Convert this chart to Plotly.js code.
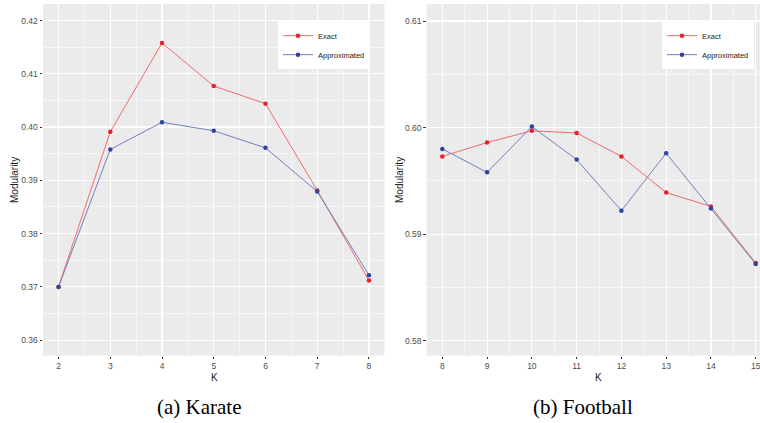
<!DOCTYPE html>
<html>
<head>
<meta charset="utf-8">
<script src="https://cdn.plot.ly/plotly-3.0.1.min.js"></script>
<style>html,body{margin:0;padding:0;background:#fff;overflow:hidden;}#chart{width:760px;height:423px;display:block;}</style>
</head>
<body>
<div id="chart"></div>
<script>
// Karate
const karateK = [2, 3, 4, 5, 6, 7, 8];
const karateExact = [0.3700, 0.3991, 0.4158, 0.4077, 0.4044, 0.3881, 0.3712];
const karateApprox = [0.3700, 0.3958, 0.4009, 0.3993, 0.3961, 0.3879, 0.3722];
// Football
const footballK = [8, 9, 10, 11, 12, 13, 14, 15];
const footballExact = [0.5973, 0.5986, 0.5997, 0.5995, 0.5973, 0.5939, 0.5926, 0.5873];
const footballApprox = [0.5980, 0.5958, 0.6001, 0.5970, 0.5922, 0.5976, 0.5924, 0.5872];

const redLine = '#F0696E', redPt = '#E8202A';
const blueLine = '#6F7FBC', bluePt = '#2E44A0';
const tickFont = {family: 'Liberation Sans, Arial, sans-serif', size: 8.5, color: '#4D4D4D'};
const titleFont = {family: 'Liberation Sans, Arial, sans-serif', size: 10, color: '#222'};

function tr(x, y, name, lc, pc, xa, ya, lg) {
  return {x: x, y: y, name: name, type: 'scatter', mode: 'lines+markers',
    line: {color: lc, width: 1}, marker: {color: pc, size: 4.5},
    xaxis: xa, yaxis: ya, legend: lg};
}

const data = [
  tr(karateK, karateExact, 'Exact', redLine, redPt, 'x', 'y', 'legend'),
  tr(karateK, karateApprox, 'Approximated', blueLine, bluePt, 'x', 'y', 'legend'),
  tr(footballK, footballExact, 'Exact', redLine, redPt, 'x2', 'y2', 'legend2'),
  tr(footballK, footballApprox, 'Approximated', blueLine, bluePt, 'x2', 'y2', 'legend2')
];

const minorGrid = {showgrid: true, gridcolor: '#F6F6F6', gridwidth: 1, ticks: ''};
function ax(extra) {
  return Object.assign({
    showgrid: true, gridcolor: '#FFFFFF', gridwidth: 1.2, zeroline: false,
    ticks: 'outside', ticklen: 2.5, tickcolor: '#333', tickwidth: 1,
    tickfont: tickFont, showline: false, automargin: false
  }, extra);
}

const legendFont = {family: 'Liberation Sans, Arial, sans-serif', size: 7.5, color: '#222'};

const layout = {
  width: 760, height: 423,
  margin: {l: 0, r: 0, t: 0, b: 0, autoexpand: false},
  paper_bgcolor: '#FFFFFF', plot_bgcolor: '#EBEBEB',
  showlegend: true,
  xaxis: ax({domain: [0.0566, 0.5059], range: [1.7, 8.3], dtick: 1, tick0: 2,
    minor: Object.assign({tick0: 2.5, dtick: 1}, minorGrid), anchor: 'y'}),
  yaxis: ax({domain: [0.1593, 0.9905], range: [0.3571, 0.4231], dtick: 0.01, tick0: 0.36, tickformat: '.2f',
    minor: Object.assign({tick0: 0.365, dtick: 0.01}, minorGrid), anchor: 'x'}),
  xaxis2: ax({domain: [0.5614, 1.0], range: [7.65, 15.096], dtick: 1, tick0: 8,
    ticklabeloverflow: 'allow',
    minor: Object.assign({tick0: 8.5, dtick: 1}, minorGrid), anchor: 'y2'}),
  yaxis2: ax({domain: [0.1593, 0.9905], range: [0.5786, 0.6116], dtick: 0.01, tick0: 0.58, tickformat: '.2f',
    minor: Object.assign({tick0: 0.585, dtick: 0.01}, minorGrid), anchor: 'x2'}),
  legend: {x: 370 / 760, y: 0.95, xanchor: 'right', yanchor: 'top', bgcolor: '#FFFFFF',
    font: legendFont, itemwidth: 30, tracegroupgap: 0},
  legend2: {x: 754 / 760, y: 0.95, xanchor: 'right', yanchor: 'top', bgcolor: '#FFFFFF',
    font: legendFont, itemwidth: 30, tracegroupgap: 0},
  annotations: [
    {text: 'Modularity', xref: 'paper', yref: 'paper', x: 15 / 760, y: 0.5745, textangle: -90,
      xanchor: 'center', yanchor: 'middle', showarrow: false, font: titleFont},
    {text: 'Modularity', xref: 'paper', yref: 'paper', x: 400 / 760, y: 0.5745, textangle: -90,
      xanchor: 'center', yanchor: 'middle', showarrow: false, font: titleFont},
    {text: 'K', xref: 'paper', yref: 'paper', x: 214 / 760, y: 0.1087, xanchor: 'center', yanchor: 'middle',
      showarrow: false, font: titleFont},
    {text: 'K', xref: 'paper', yref: 'paper', x: 598 / 760, y: 0.1087, xanchor: 'center', yanchor: 'middle',
      showarrow: false, font: titleFont},
    {text: '(a) Karate', xref: 'paper', yref: 'paper', x: 199 / 760, y: 0.038, xanchor: 'center', yanchor: 'middle',
      showarrow: false, font: {family: 'Liberation Serif, Times New Roman, serif', size: 21, color: '#000'}},
    {text: '(b) Football', xref: 'paper', yref: 'paper', x: 583 / 760, y: 0.038, xanchor: 'center', yanchor: 'middle',
      showarrow: false, font: {family: 'Liberation Serif, Times New Roman, serif', size: 21, color: '#000'}}
  ]
};

Plotly.newPlot('chart', data, layout, {displayModeBar: false, staticPlot: true});
</script>
</body>
</html>
